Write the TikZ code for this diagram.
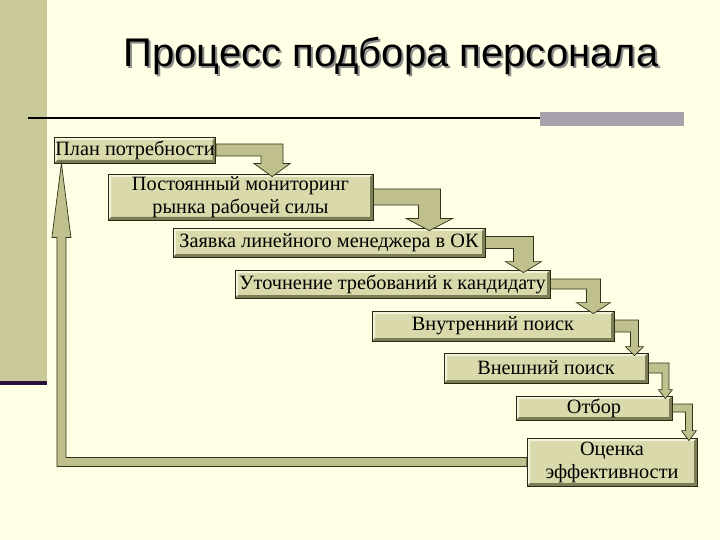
\documentclass[tikz,border=0pt]{standalone}
\usepackage{fontspec}
\setmainfont{Liberation Serif}
\newfontfamily\titlefont{Liberation Sans}
\usetikzlibrary{calc}

\definecolor{paper}{RGB}{255,255,229}
\definecolor{sidebar}{RGB}{201,201,154}
\definecolor{sideline}{RGB}{43,15,61}
\definecolor{rulebar}{RGB}{168,160,170}
\definecolor{boxfill}{RGB}{217,217,172}
\definecolor{boxlight}{RGB}{242,242,218}
\definecolor{boxdark}{RGB}{125,125,85}
\definecolor{boxline}{RGB}{40,40,20}
\definecolor{connfill}{RGB}{192,192,142}
\definecolor{connline}{RGB}{50,50,25}

\tikzset{
  stage/.style={draw=boxline, line width=.8pt, fill=boxfill, align=center, inner sep=1pt,
    font=\fontsize{20.3}{23}\selectfont,
    path picture={
      \fill[boxlight] (path picture bounding box.north west) -- (path picture bounding box.north east)
        -- ++(-3pt,-3pt) -- ($(path picture bounding box.north west)+(3pt,-3pt)$)
        -- ($(path picture bounding box.south west)+(3pt,3pt)$) -- (path picture bounding box.south west) -- cycle;
      \fill[boxdark] (path picture bounding box.south east) -- (path picture bounding box.north east)
        -- ++(-3pt,-3pt) -- ($(path picture bounding box.south east)+(-3pt,3pt)$)
        -- ($(path picture bounding box.south west)+(3pt,3pt)$) -- (path picture bounding box.south west) -- cycle;
    }},
  conn/.style={draw=connline, line width=.7pt, fill=connfill, line join=miter}
}

% from, to, dx, half shaft (horizontal), half shaft (vertical), half head, head length
\newcommand{\stepconn}[7]{%
  \filldraw[conn] let \p1=(#1.east), \p2=(#2.north) in
    (\x1,\y1+#4) -- (\x1+#3+#5,\y1+#4) -- (\x1+#3+#5,\y2+#7-3pt) -- (\x1+#3+#6,\y2+#7-3pt)
    -- (\x1+#3,\y2-3pt) -- (\x1+#3-#6,\y2+#7-3pt) -- (\x1+#3-#5,\y2+#7-3pt)
    -- (\x1+#3-#5,\y1-#4) -- (\x1,\y1-#4) -- cycle;
}

\begin{document}
\begin{tikzpicture}[x=1pt,y=-1pt]
\useasboundingbox (0,0) rectangle (720,540);
\fill[paper] (0,0) rectangle (720,540);
% left strip and rule
\fill[sidebar] (0,0) rectangle (47,381);
\fill[sideline] (0,381) rectangle (47,385);
\fill[rulebar] (540,112) rectangle (684,126);
\draw[line width=2pt] (28,118) -- (540,118);

% title with shadow
\node[text=black!45, font=\titlefont\fontsize{40}{48}\selectfont] (titleshadow) at (393,58) {Процесс подбора персонала};
\node[font=\titlefont\fontsize{40}{48}\selectfont] (title) at (391,56) {Процесс подбора персонала};

% stages
\node[stage, minimum width=160, minimum height=26] (plan) at (135,150) {План потребности};
\node[stage, minimum width=265, minimum height=46] (monitor) at (240.5,197) {Постоянный мониторинг\\рынка рабочей силы};
\node[stage, minimum width=312, minimum height=29] (request) at (329,242.5) {Заявка линейного менеджера в ОК};
\node[stage, minimum width=315, minimum height=28] (spec) at (392.5,284) {Уточнение требований к кандидату};
\node[stage, minimum width=242, minimum height=30] (inner) at (493,326) {Внутренний поиск};
\node[stage, minimum width=204, minimum height=30] (outer) at (546,368) {Внешний поиск};
\node[stage, minimum width=156, minimum height=24] (select) at (594,408) {Отбор};
\node[stage, minimum width=170, minimum height=48] (eval) at (612,462) {Оценка\\эффективности};

% bent arrows between stages
\stepconn{plan}{monitor}{56pt}{6pt}{11pt}{18pt}{13pt}
\stepconn{monitor}{request}{56pt}{8pt}{11pt}{23pt}{12pt}
\stepconn{request}{spec}{38pt}{6pt}{10pt}{18pt}{11pt}
\stepconn{spec}{inner}{43pt}{5pt}{7pt}{17pt}{11pt}
\stepconn{inner}{outer}{20pt}{6pt}{4pt}{9pt}{9pt}
\stepconn{outer}{select}{17pt}{5pt}{3.5pt}{7pt}{9pt}
\stepconn{select}{eval}{16.5pt}{4pt}{3.5pt}{7.5pt}{10pt}

% back to the start
\filldraw[conn] let \p1=(eval.west), \p2=($(plan.south west)+(7.5,0)$) in
  (\x1,\y1+4.5pt) -- (\x2+4.5pt,\y1+4.5pt) -- (\x2+4.5pt,\y2-74pt) -- (\x2+9.5pt,\y2-74pt)
  -- (\x2,\y2) -- (\x2-9.5pt,\y2-74pt) -- (\x2-4.5pt,\y2-74pt) -- (\x2-4.5pt,\y1-4.5pt)
  -- (\x1,\y1-4.5pt) -- cycle;
\end{tikzpicture}
\end{document}
